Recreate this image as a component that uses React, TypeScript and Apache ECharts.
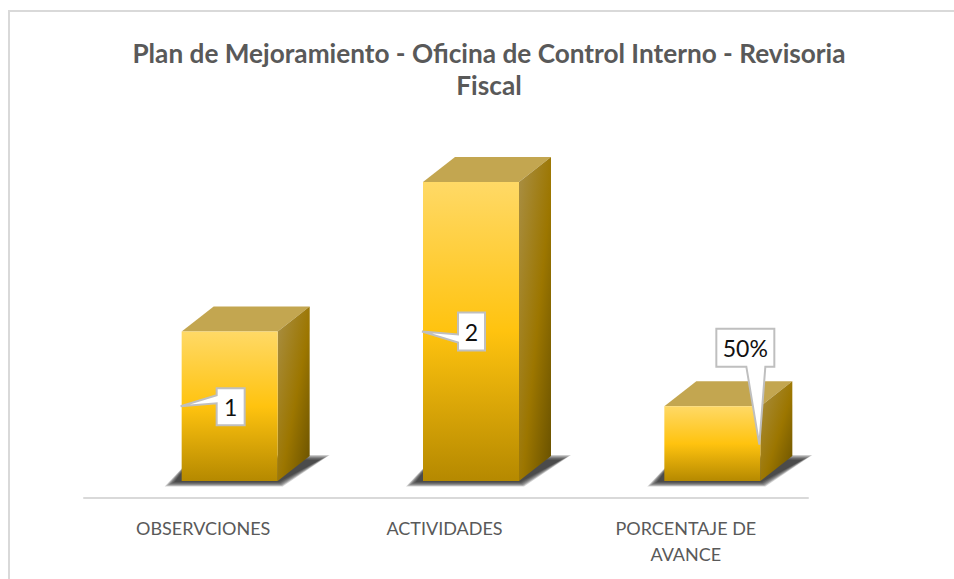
import React, { useEffect, useRef } from "react";
import * as echarts from "echarts";

const titleLines = ["Plan de Mejoramiento - Oficina de Control Interno - Revisoria", "Fiscal"];
const categories = ["OBSERVCIONES", "ACTIVIDADES", "PORCENTAJE DE\nAVANCE"];
const values = [1, 2, 0.5];
const dataLabels = ["1", "2", "50%"];

const FONT = "Lato";
const W = 96, DX = 32, DY = 25, SHIFT = 25;
const SHADOW_SPREADS = [10, 8.5, 7, 5.5, 4, 2.5, 1, 0];

function renderBar(params: any, api: any) {
  const i = api.value(0);
  const [cx, yTop] = api.coord([i, api.value(1)]);
  const [, yBot] = api.coord([i, 0]);
  const x0 = cx + SHIFT - W / 2;
  const x1 = x0 + W;
  const h = yBot - yTop;
  const yMid = yTop + h / 2;
  const grad = (a: number, b: number, c: number, d: number, stops: [number, string][]) =>
    new echarts.graphic.LinearGradient(a, b, c, d, stops.map(([offset, color]) => ({ offset, color })));

  const poly = (points: number[][], style: any) => ({ type: "polygon", shape: { points }, style });

  const callout = [
    { tip: [x0 - 1, yMid], box: [x0 + 35, yMid - 18, 28, 37], ptr: [[x0 + 35, yMid - 11], [x0 + 35, yMid - 3]] },
    { tip: [x0 - 1, yMid], box: [x0 + 35, yMid - 19, 27, 38], ptr: [[x0 + 35, yMid + 3], [x0 + 35, yMid + 11]] },
    { tip: [x1 - 1, yMid + 1], box: [x1 - 44, yMid - 115, 58, 38], ptr: [[x1 - 14, yMid - 77], [x1 + 5, yMid - 77]] },
  ][i];
  const [bx, by, bw, bh] = callout.box;
  const calloutPts = i === 2
    ? [[bx, by], [bx + bw, by], [bx + bw, by + bh], callout.ptr[1], callout.tip, callout.ptr[0], [bx, by + bh]]
    : [[bx, by], [bx + bw, by], [bx + bw, by + bh], [bx, by + bh], callout.ptr[1], callout.tip, callout.ptr[0]];

  const shadowLayers = SHADOW_SPREADS.map((s) =>
    poly(
      [
        [x0 - 7 - s, yBot + 1 + s * 0.45],
        [x1 + 1 + s * 0.4, yBot + 1 + s * 0.45],
        [x1 + DX + 10 + s, yBot - DY - 0.5 * s + 4],
        [x1 + DX, yBot - DY - 0.5 * s + 4],
        [x0 + 12, yBot - DY],
      ],
      { fill: "rgba(40,40,40,0.2)" }
    )
  );

  return {
    type: "group",
    children: [
      ...shadowLayers,
      poly([[x0, yTop], [x1, yTop], [x1 + DX, yTop - DY], [x0 + DX, yTop - DY]], {
        fill: "#C3A650",
      }),
      poly([[x1, yTop], [x1 + DX, yTop - DY], [x1 + DX, yBot - DY], [x1, yBot]], {
        fill: grad(0, 0, 1, 1, [
          [0, "#A98F45"],
          [0.55, "#9C7600"],
          [1, "#675000"],
        ]),
      }),
      {
        type: "rect",
        shape: { x: x0, y: yTop, width: W, height: h },
        style: {
          fill: grad(0, 0, 0, 1, [
            [0, "#FFD966"],
            [0.5, "#FFC30F"],
            [1, "#B58900"],
          ]),
        },
      },
      poly(calloutPts, { fill: "#FFFFFF", stroke: "#BFBFBF", lineWidth: 2 }),
      {
        type: "text",
        style: {
          x: bx + bw / 2,
          y: by + bh / 2,
          text: dataLabels[i],
          align: "center",
          verticalAlign: "middle",
          fontFamily: FONT,
          fontSize: 23,
          fill: "#111111",
        },
      },
    ],
  };
}

export default function App() {
  const ref = useRef<HTMLDivElement>(null);
  useEffect(() => {
    document.body.style.margin = "0";
    document.body.style.overflow = "hidden";
    const chart = echarts.init(ref.current!, null, { renderer: "svg" });
    chart.setOption({
      animation: false,
      backgroundColor: "#FFFFFF",
      title: {
        text: titleLines.join("\n"),
        left: 484,
        top: 32,
        textAlign: "center",
        textStyle: { fontFamily: FONT, fontWeight: "bold", fontSize: 26.2, lineHeight: 32, color: "#595959" },
      },
      grid: { left: 84, right: 146, top: 182, bottom: 98 },
      xAxis: {
        type: "category",
        data: categories,
        offset: 17,
        axisLine: { onZero: false, lineStyle: { color: "#D9D9D9", width: 2 } },
        axisTick: { show: false },
        axisLabel: { interval: 0, margin: 17, fontFamily: FONT, fontSize: 18, lineHeight: 26, color: "#595959", padding: [0, 3, 0, 0] },
      },
      yAxis: { type: "value", min: 0, max: 2, show: false },
      graphic: [
        {
          type: "polyline",
          silent: true,
          shape: { points: [[9, 579], [9, 11], [954, 11]] },
          style: { stroke: "#D9D9D9", lineWidth: 2, fill: "none" },
        },
      ],
      series: [
        {
          type: "custom",
          clip: false,
          renderItem: renderBar,
          encode: { x: 0, y: 1 },
          data: values.map((v, i) => [i, v]),
        },
      ],
    });
    return () => chart.dispose();
  }, []);
  return <div ref={ref} style={{ width: 954, height: 579 }} />;
}
